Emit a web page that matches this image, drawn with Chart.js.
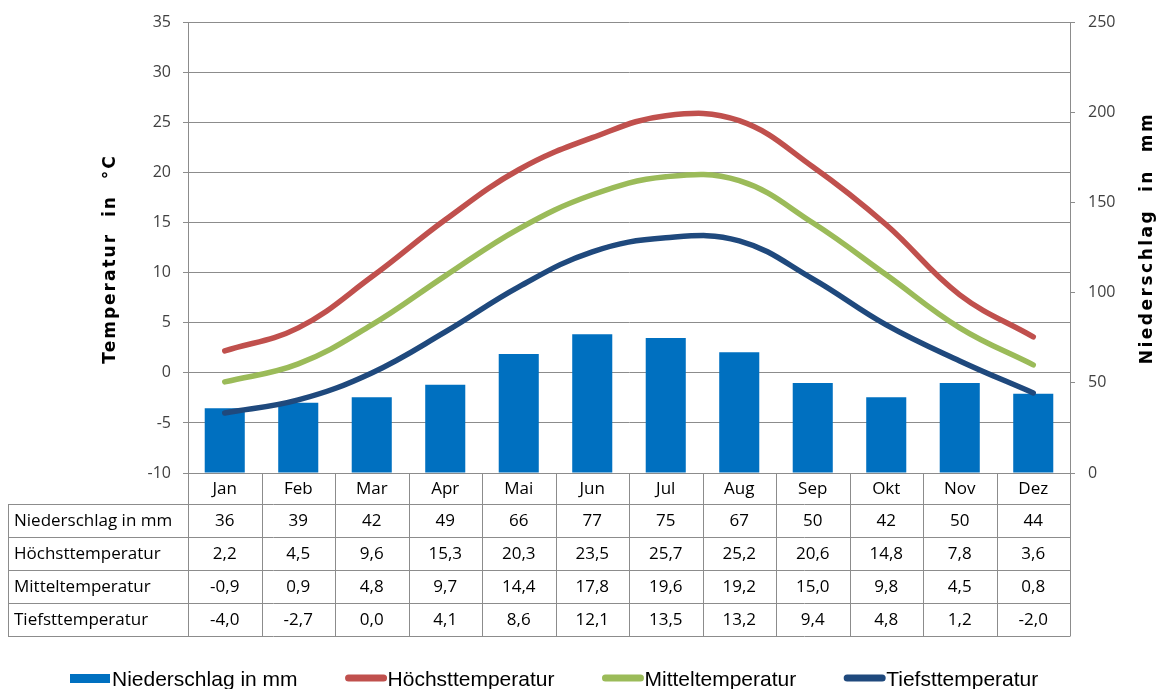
<!DOCTYPE html>
<html>
<head>
<meta charset="utf-8">
<script src="https://cdn.jsdelivr.net/npm/chart.js@4/dist/chart.umd.min.js"></script>
<style>
  html, body { margin: 0; padding: 0; background: #fff; }
  #wrap { width: 1171px; height: 689px; }
</style>
</head>
<body>
<div id="wrap"><canvas id="klima"></canvas></div>
<script>
// Werte aus der Tabelle
const monate = ['Jan', 'Feb', 'Mar', 'Apr', 'Mai', 'Jun', 'Jul', 'Aug', 'Sep', 'Okt', 'Nov', 'Dez'];
const niederschlag = [36, 39, 42, 49, 66, 77, 75, 67, 50, 42, 50, 44];
const hoechst = [2.2, 4.5, 9.6, 15.3, 20.3, 23.5, 25.7, 25.2, 20.6, 14.8, 7.8, 3.6];
const mittel = [-0.9, 0.9, 4.8, 9.7, 14.4, 17.8, 19.6, 19.2, 15.0, 9.8, 4.5, 0.8];
const tiefst = [-4.0, -2.7, 0.0, 4.1, 8.6, 12.1, 13.5, 13.2, 9.4, 4.8, 1.2, -2.0];

// Achsenbeschriftung
const tempTicks = [-10, -5, 0, 5, 10, 15, 20, 25, 30, 35];
const regenTicks = [0, 50, 100, 150, 200, 250];

const GRAU = '#8c8c8c';
const fmt1 = v => v.toFixed(1).replace('.', ',');

const zeilen = [
    { label: 'Niederschlag in mm', werte: niederschlag, f: v => String(v) },
    { label: 'Höchsttemperatur', werte: hoechst, f: fmt1 },
    { label: 'Mitteltemperatur', werte: mittel, f: fmt1 },
    { label: 'Tiefsttemperatur', werte: tiefst, f: fmt1 }
];

// Datentabelle unter dem Diagramm
const tabelle = {
    id: 'tabelle',
    afterDraw(chart) {
        const { ctx, chartArea: a, scales: { x } } = chart;
        const half = (x.getPixelForValue(1) - x.getPixelForValue(0)) / 2;
        const kopf = 31, zeile = 33, links = 8;
        const y0 = a.bottom + kopf;
        const unten = y0 + zeilen.length * zeile;
        ctx.save();
        ctx.strokeStyle = GRAU;
        ctx.lineWidth = 1;
        ctx.beginPath();
        for (let r = 0; r <= zeilen.length; r++) {
            const y = Math.round(y0 + r * zeile) + 0.5;
            ctx.moveTo(links, y);
            ctx.lineTo(a.right, y);
        }
        ctx.moveTo(links + 0.5, y0);
        ctx.lineTo(links + 0.5, unten);
        for (let i = 0; i <= monate.length; i++) {
            const px = Math.round(x.getPixelForValue(Math.min(i, monate.length - 1)) + (i < monate.length ? -half : half)) + 0.5;
            ctx.moveTo(px, a.bottom);
            ctx.lineTo(px, unten + 0.5);
        }
        ctx.stroke();

        ctx.fillStyle = '#000';
        ctx.font = '17px "Open Sans"';
        ctx.textBaseline = 'middle';
        zeilen.forEach((z, r) => {
            const cy = y0 + r * zeile + zeile / 2 + 1;
            ctx.textAlign = 'left';
            ctx.fillText(z.label, links + 6, cy);
            ctx.textAlign = 'center';
            z.werte.forEach((v, i) => ctx.fillText(z.f(v), x.getPixelForValue(i), cy));
        });
        ctx.restore();
    }
};

// Achsentitel
function senkrecht(ctx, text, cx, cy, spacing) {
    ctx.save();
    ctx.fillStyle = '#000';
    ctx.font = 'bold 17px "DejaVu Sans"';
    ctx.letterSpacing = spacing;
    ctx.textAlign = 'center';
    ctx.textBaseline = 'middle';
    ctx.translate(cx, cy);
    ctx.rotate(-Math.PI / 2);
    ctx.fillText(text, 0, 0);
    ctx.restore();
}

const titel = {
    id: 'titel',
    afterDraw(chart) {
        senkrecht(chart.ctx, 'Temperatur  in  °C', 111, 259, '2px');
        senkrecht(chart.ctx, 'Niederschlag  in  mm', 1148, 238, '2.5px');
    }
};

// Legende unten
const legende = {
    id: 'legende',
    afterDraw(chart) {
        const { ctx } = chart;
        const reihenfolge = [3, 0, 1, 2];
        let px = 70;
        const cy = 679;
        ctx.save();
        ctx.font = '21px "Liberation Sans"';
        ctx.textBaseline = 'middle';
        ctx.textAlign = 'left';
        reihenfolge.forEach(idx => {
            const ds = chart.data.datasets[idx];
            if (ds.type === 'bar') {
                ctx.fillStyle = ds.backgroundColor;
                ctx.fillRect(px, cy - 5, 40, 9);
            } else {
                ctx.strokeStyle = ds.borderColor;
                ctx.lineWidth = 7;
                ctx.lineCap = 'round';
                ctx.beginPath();
                ctx.moveTo(px + 3, cy - 1);
                ctx.lineTo(px + 38, cy - 1);
                ctx.stroke();
            }
            ctx.fillStyle = '#000';
            ctx.fillText(ds.label, px + 42, cy + 1);
            px += 42 + ctx.measureText(ds.label).width + 48;
        });
        ctx.restore();
    }
};

const tickFont = { family: 'Open Sans', size: 16 };

new Chart(document.getElementById('klima'), {
    data: {
        labels: monate,
        datasets: [
            {
                type: 'line', label: 'Höchsttemperatur', data: hoechst, yAxisID: 'y',
                borderColor: '#C0504D', borderWidth: 5.5, tension: 0.4, pointRadius: 0,
                borderCapStyle: 'round', order: 0
            },
            {
                type: 'line', label: 'Mitteltemperatur', data: mittel, yAxisID: 'y',
                borderColor: '#9BBB59', borderWidth: 5.5, tension: 0.4, pointRadius: 0,
                borderCapStyle: 'round', order: 0
            },
            {
                type: 'line', label: 'Tiefsttemperatur', data: tiefst, yAxisID: 'y',
                borderColor: '#1F497D', borderWidth: 5.5, tension: 0.4, pointRadius: 0,
                borderCapStyle: 'round', order: 0
            },
            {
                type: 'bar', label: 'Niederschlag in mm', data: niederschlag, yAxisID: 'y1',
                backgroundColor: '#0070C0', barPercentage: 0.545, categoryPercentage: 1.0, order: 1
            }
        ]
    },
    options: {
        responsive: true,
        maintainAspectRatio: false,
        animation: false,
        layout: { padding: { top: 20, bottom: 53, left: 0, right: 0 } },
        plugins: {
            legend: { display: false },
            tooltip: { enabled: false }
        },
        scales: {
            x: {
                type: 'category',
                offset: true,
                grid: { display: false, drawTicks: false },
                border: { display: false },
                ticks: { color: '#000', font: { family: 'Open Sans', size: 17 }, padding: 6, maxRotation: 0, autoSkip: false },
                afterFit(s) { s.height = 163; }
            },
            y: {
                position: 'left',
                min: -10,
                max: 35,
                afterBuildTicks(s) { s.ticks = tempTicks.map(v => ({ value: v })); },
                grid: { color: GRAU, tickLength: 5 },
                border: { color: GRAU },
                ticks: { color: '#404040', font: tickFont, padding: 12 },
                afterFit(s) { s.width = 188; }
            },
            y1: {
                position: 'right',
                min: 0,
                max: 250,
                afterBuildTicks(s) { s.ticks = regenTicks.map(v => ({ value: v })); },
                grid: { drawOnChartArea: false, color: GRAU, tickLength: 5 },
                border: { color: GRAU },
                ticks: { color: '#404040', font: tickFont, padding: 13 },
                afterFit(s) { s.width = 101; }
            }
        }
    },
    plugins: [tabelle, titel, legende]
});
</script>
</body>
</html>
